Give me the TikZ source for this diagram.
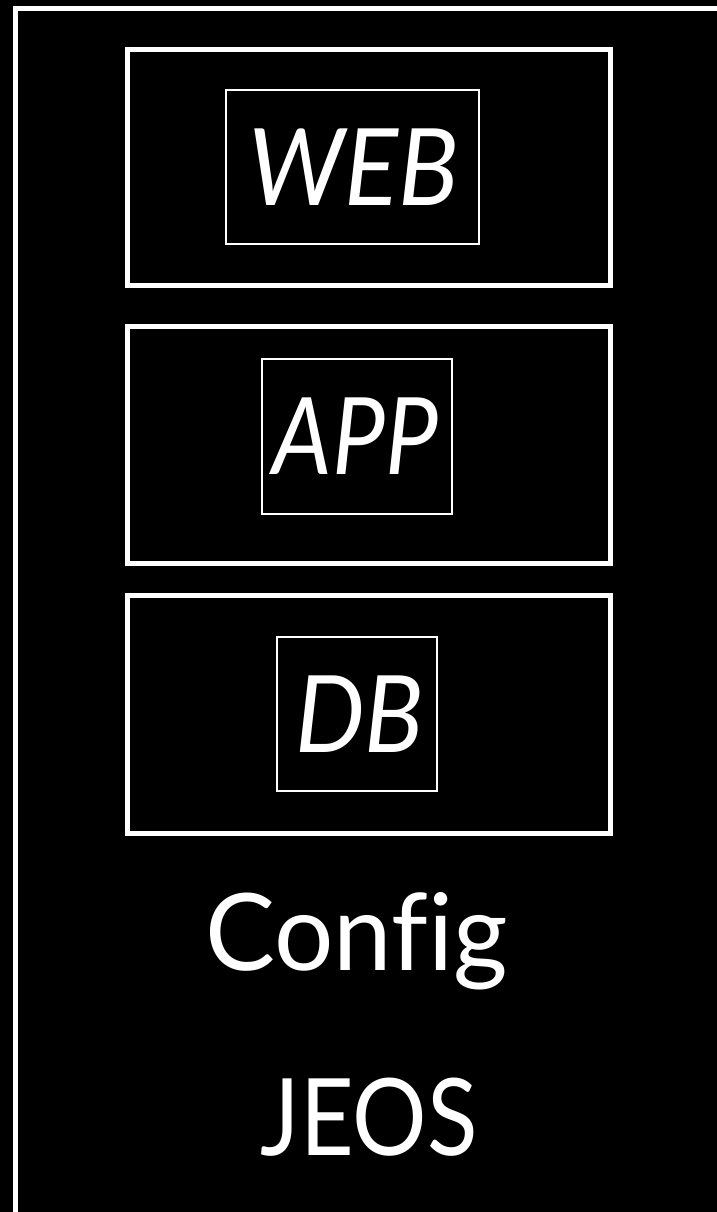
\documentclass[tikz,border=0pt]{standalone}
\usepackage{fontspec}
\setmainfont[Ligatures=CommonOff]{Lato}
\begin{document}
\begin{tikzpicture}[x=1pt,y=-1pt,
  tier/.style={draw=white,line width=5pt},
  role/.style={draw=white,line width=2pt},
  lbl/.style={text=white,inner sep=0pt,anchor=base,font=\fontsize{107}{107}\selectfont},
  ilbl/.style={lbl,font=\fontsize{107}{107}\selectfont\itshape}]
\useasboundingbox (0,0) rectangle (717,1212);
\clip (0,0) rectangle (717,1212);
\fill[black] (0,0) rectangle (717,1212);
% host frame running off the page
\draw[draw=white,line width=5pt] (15,8.5) rectangle (760,1260);
% tiers
\draw[tier] (127,49.5) rectangle (610,285.5);
\draw[tier] (127,326) rectangle (610,563.5);
\draw[tier] (127,595.5) rectangle (610,833.5);
% roles inside the tiers
\draw[role] (226,90) rectangle (479,244);
\draw[role] (262,359) rectangle (452,514);
\draw[role] (276.5,637) rectangle (437,791);
\node[ilbl] (web) at (353.5,205) {\scalebox{0.94}[1]{WEB}};
\node[ilbl] (app) at (355.5,474) {\scalebox{0.88}[1]{APP}};
\node[ilbl] (db) at (359.5,752) {\scalebox{0.92}[1]{DB}};
% lower layers
\node[lbl] (config) at (356.5,970) {\scalebox{0.98}[1]{Config}};
\node[lbl] (jeos) at (369,1155) {\scalebox{0.87}[1]{JEOS}};
\end{tikzpicture}
\end{document}
